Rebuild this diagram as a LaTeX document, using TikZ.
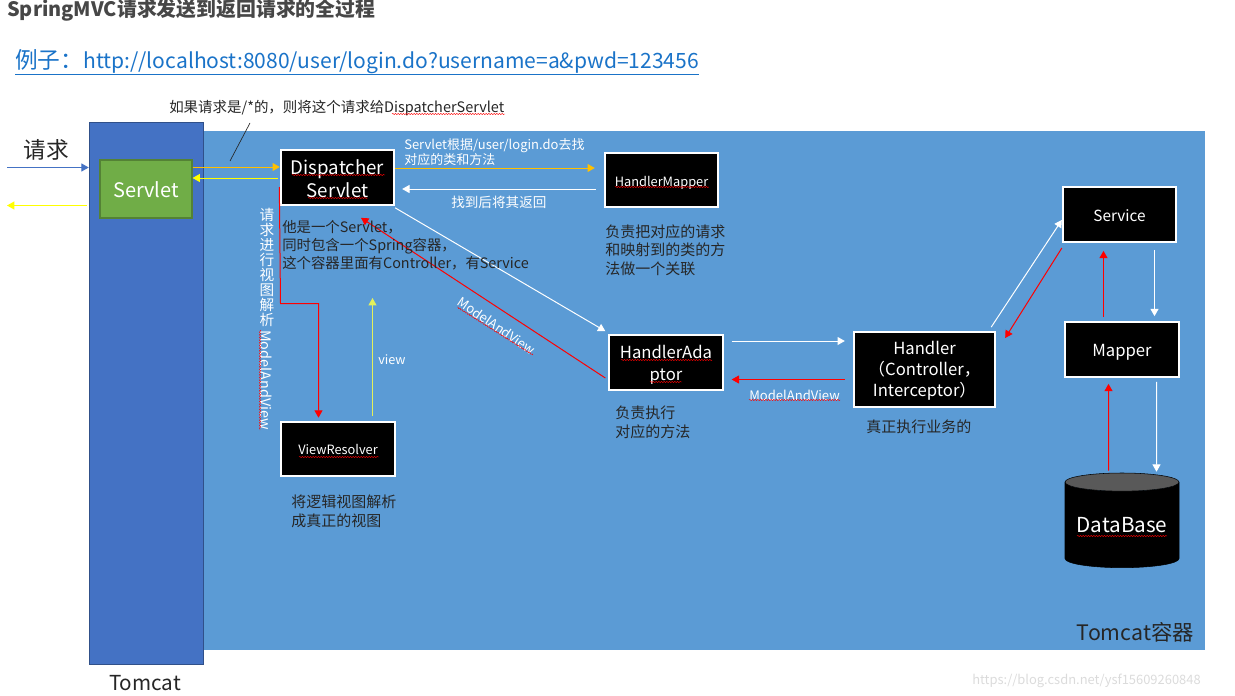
\documentclass[tikz,border=0pt]{standalone}
\usepackage{fontspec}
\setmainfont{Noto Sans CJK SC}
\usetikzlibrary{arrows.meta,shapes.geometric,decorations.pathmorphing}
\definecolor{boxblue}{HTML}{5B9BD5}
\definecolor{barblue}{HTML}{4472C4}
\definecolor{boxgreen}{HTML}{70AD47}
\definecolor{linkblue}{HTML}{1A73C8}
\definecolor{arrowyellow}{HTML}{FFFF00}
\definecolor{viewyellow}{HTML}{E4F05A}
\definecolor{arroworange}{HTML}{FFC000}
\tikzset{
	blackbox/.style={draw=white, line width=1.5pt, fill=black, text=white, align=center, inner sep=0pt, minimum width=85pt, minimum height=41pt},
	note/.style={anchor=west, align=left, inner sep=0pt, text=black!85, font=\fontsize{11.25}{13.8}\selectfont},
	whitenote/.style={note, text=white},
	squig/.style={red, line width=0.35pt, decorate, decoration={snake, amplitude=0.4pt, segment length=2pt}},
	arr/.style={-{Triangle[length=5.5pt,width=6pt]}, line width=0.75pt},
	whitearr/.style={arr, white},
	redarr/.style={arr, red},
}
\begin{document}
\begin{tikzpicture}[x=0.75pt, y=-0.75pt]
	\useasboundingbox (0,0) rectangle (1235,696);

	\node[note, font=\bfseries\fontsize{14.9}{17}\selectfont, text=black!72] (title) at (7,10) {SpringMVC请求发送到返回请求的全过程};
	\node[note, font=\fontsize{17}{20}\selectfont, text=linkblue] (example) at (15,62) {例子：{\fontsize{15.8}{20}\selectfont http://localhost:8080/user/login.do?username=a\&pwd=123456}};
	\draw[linkblue, line width=0.7pt] (example.west |- 0,74) -- (example.east |- 0,74);

	\fill[boxblue] (203,131) rectangle (1205,650);
	\node[fill=barblue, draw=barblue!70!black, line width=0.4pt, minimum width=85.5pt, minimum height=406.5pt, inner sep=0pt] (bar) at (146,393) {};
	\node[fill=boxgreen, draw=boxgreen!75!black, line width=0.8pt, text=white, font=\fontsize{15}{18}\selectfont, minimum width=69pt, minimum height=43.5pt, inner sep=0pt] (servlet) at (146,189) {\rule{0pt}{12.5pt}Servlet};

	\node[blackbox, font=\fontsize{14}{17.3}\selectfont] (dispatcher) at (337.5,177.5) {\rule{0pt}{12.6pt}Dispatcher\\Servlet};
	\node[blackbox, font=\fontsize{9.6}{12}\selectfont] (mapping) at (661.5,180) {\rule{0pt}{11.6pt}HandlerMapper};
	\node[blackbox, font=\fontsize{12.5}{16.5}\selectfont] (adaptor) at (666,362.5) {\rule{0pt}{13pt}HandlerAda\\ptor};
	\node[blackbox, font=\fontsize{9.6}{12}\selectfont] (resolver) at (338,449) {\rule{0pt}{8.6pt}ViewResolver};
	\node[blackbox, font=\fontsize{12.5}{15.8}\selectfont, minimum width=106pt, minimum height=56pt] (handler) at (924.5,369.5) {\rule{0pt}{12.3pt}Handler\\（Controller，\\Interceptor）};
	\node[blackbox, font=\fontsize{11.5}{14}\selectfont] (service) at (1119.5,214.5) {\rule{0pt}{10pt}Service};
	\node[blackbox, font=\fontsize{12.5}{15}\selectfont] (mapper) at (1122,349.5) {\rule{0pt}{13.7pt}Mapper};
	\node[cylinder, shape border rotate=90, aspect=0.2, draw=black, line width=0.4pt, cylinder uses custom fill, cylinder body fill=black, cylinder end fill=black!65, text=white, font=\fontsize{15.5}{18}\selectfont, inner sep=0pt, minimum width=85.5pt, minimum height=71pt] (database) at (1122,525) {DataBase};

	% request and answer at the left
	\coordinate (reqin) at (7,167.5);
	\coordinate (reqout) at (7,205.5);
	\draw[arr, barblue] (reqin) -- ([shift={(0,-225.5)}]bar.west);
	\draw[arr, arrowyellow] ([shift={(-2,-187.5)}]bar.west) -- (reqout);
	\node[inner sep=0pt, font=\fontsize{17}{20}\selectfont, text=black!85] (req) at (46,150) {请求};

	\draw[arr, arroworange] ([shift={(0,-22)}]servlet.east) -- ([shift={(0,-10.5)}]dispatcher.west);
	\draw[arr, arrowyellow] ([shift={(-2,0.5)}]dispatcher.west) -- ([shift={(0,-11)}]servlet.east);

	\coordinate (slashtop) at (250,123);
	\coordinate (slashend) at (230,161);
	\draw[black!85, line width=0.5pt] (slashtop) -- (slashend);

	\draw[arr, arroworange] ([shift={(0,-9.5)}]dispatcher.east) -- ([shift={(-9,-12)}]mapping.west);
	\draw[whitearr] ([shift={(-8,9)}]mapping.west) -- ([shift={(7,11.5)}]dispatcher.east);
	\draw[whitearr] ([shift={(0,2)}]dispatcher.south east) -- ([shift={(-3,-3)}]adaptor.north west);
	\draw[redarr] ([shift={(-3,15.5)}]adaptor.west) -- ([shift={(23.5,12)}]dispatcher.south);

	\coordinate (redbend) at (280.5,303.5);
	\coordinate (viewtop) at (372.5,298);
	\draw[redarr] ([shift={(-0.5,9.5)}]dispatcher.west) -- (redbend) -| ([shift={(-19.5,-3)}]resolver.north);
	\draw[arr, viewyellow, line width=0.55pt] ([shift={(34.5,-5)}]resolver.north) -- (viewtop);

	\draw[whitearr] ([shift={(8,-21.5)}]adaptor.east) -- ([shift={(-8,-28.5)}]handler.west);
	\draw[redarr] ([shift={(-8,10)}]handler.west) -- ([shift={(8,17)}]adaptor.east);
	\draw[whitearr] ([shift={(-5,-4)}]handler.north east) -- ([shift={(0,5.5)}]service.west);
	\draw[redarr] ([shift={(0,33.5)}]service.west) -- ([shift={(9,-31.5)}]handler.east);
	\draw[whitearr] ([shift={(35,7)}]service.south) -- ([shift={(32.5,-5)}]mapper.north);
	\draw[redarr] ([shift={(-13.5,-2)}]database.north) -- ([shift={(-13.5,6)}]mapper.south);
	\draw[whitearr] ([shift={(34.5,4)}]mapper.south) -- ([shift={(34.5,-1)}]database.north);
	\draw[redarr, line width=1pt] ([shift={(-18.5,-4)}]mapper.north) -- ([shift={(-16,8)}]service.south);

	% labels
	\node[note, font=\fontsize{10.85}{13.5}\selectfont] (ifall) at (169,108.5) {如果请求是/*的，则将这个请求给DispatcherServlet};
	\node[whitenote, font=\fontsize{9.75}{11.3}\selectfont] (lookup) at (404,152.5) {Servlet根据/user/login.do去找\\对应的类和方法};
	\node[whitenote, font=\fontsize{10.2}{12}\selectfont] (found) at (451,202) {找到后将其返回};
	\node[note] (mapnote) at (605,250) {负责把对应的请求\\和映射到的类的方\\法做一个关联};
	\node[note, font=\fontsize{10.8}{13.5}\selectfont] (dispnote) at (282,245) {他是一个Servlet，\\同时包含一个Spring容器，\\这个容器里面有Controller，有Service};
	\node[note] (adaptnote) at (615,422.5) {负责执行\\对应的方法};
	\node[note] (handnote) at (866,427) {真正执行业务的};
	\node[note] (resnote) at (291,511.5) {将逻辑视图解析\\成真正的视图};
	\node[whitenote, font=\fontsize{9.5}{12}\selectfont] (viewlabel) at (378,360) {view};
	\node[whitenote, font=\fontsize{9.8}{12}\selectfont] (mavlabel) at (749,395) {ModelAndView};
	\node[inner sep=0pt, text=white, font=\fontsize{9.8}{12}\selectfont, rotate=-34] (mavdiag) at (497,326) {ModelAndView};
	\node[inner sep=0pt, text=white, align=center, font=\fontsize{11}{11.25}\selectfont] (parsev) at (267,267) {请\\求\\进\\行\\视\\图\\解\\析};
	\node[inner sep=0pt, text=white, font=\fontsize{10.8}{12}\selectfont, rotate=-90] (mavv) at (266,380) {ModelAndView};
	\node[note, anchor=east, font=\fontsize{16}{18}\selectfont] (tomcatbox) at (1194,632) {Tomcat容器};
	\node[inner sep=0pt, text=black!85, font=\fontsize{15.5}{18}\selectfont] (tomcat) at (145,683.5) {Tomcat};
	\node[note, text=black!14, font=\fontsize{9.7}{12}\selectfont] (mark) at (972,681) {https://blog.csdn.net/ysf15609260848};

	% spell check marks
	\draw[squig] (392,114) -- (505,114);
	\draw[squig] (292,175) -- (385,175);
	\draw[squig] (308,198) -- (368,198);
	\draw[squig] (615,187) -- (709,187);
	\draw[squig] (621,360) -- (712,360);
	\draw[squig] (650,382) -- (682,382);
	\draw[squig] (299,457) -- (379,457);
	\draw[squig] (1077,536) -- (1167,536);
	\draw[squig] (749,400) -- (840,400);
	\draw[squig] (457,307) -- (533,355);
	\draw[squig] (260,330) -- (260,430);
\end{tikzpicture}
\end{document}
